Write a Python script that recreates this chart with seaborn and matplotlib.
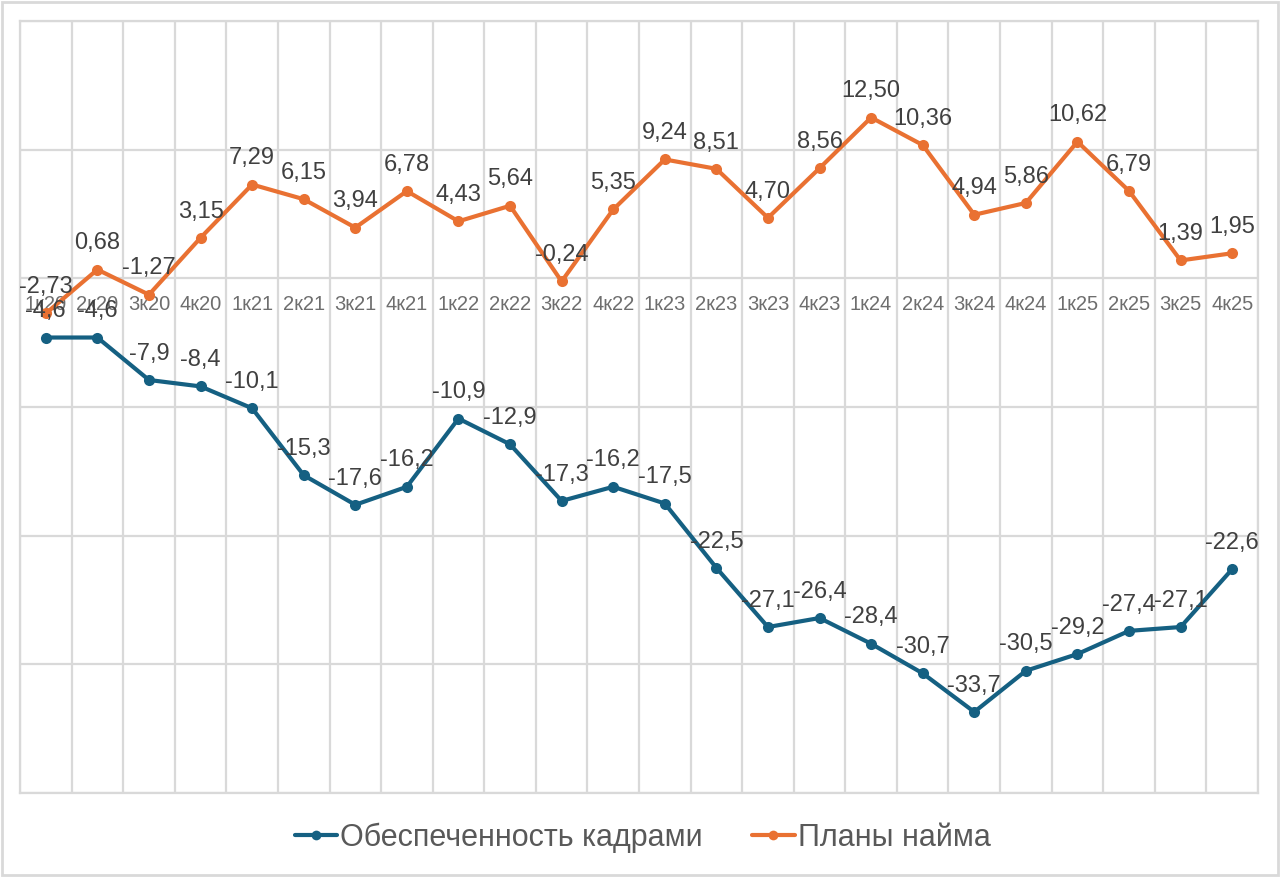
import numpy as np
import pandas as pd
import matplotlib
matplotlib.use("Agg")
import matplotlib.pyplot as plt
import seaborn as sns
from matplotlib.lines import Line2D
from matplotlib.patches import Rectangle

quarters = ["1к20", "2к20", "3к20", "4к20", "1к21", "2к21", "3к21", "4к21",
            "1к22", "2к22", "3к22", "4к22", "1к23", "2к23", "3к23", "4к23",
            "1к24", "2к24", "3к24", "4к24", "1к25", "2к25", "3к25", "4к25"]
staffing = [-4.6, -4.6, -7.9, -8.4, -10.1, -15.3, -17.6, -16.2,
            -10.9, -12.9, -17.3, -16.2, -17.5, -22.5, -27.1, -26.4,
            -28.4, -30.7, -33.7, -30.5, -29.2, -27.4, -27.1, -22.6]
hiring = [-2.73, 0.68, -1.27, 3.15, 7.29, 6.15, 3.94, 6.78,
          4.43, 5.64, -0.24, 5.35, 9.24, 8.51, 4.70, 8.56,
          12.50, 10.36, 4.94, 5.86, 10.62, 6.79, 1.39, 1.95]
series_names = ["Обеспеченность кадрами", "Планы найма"]
colors = ["#156082", "#E97132"]

sns.set_theme(style="white")
plt.rcParams['font.family'] = ['Liberation Sans', 'DejaVu Sans']

fig = plt.figure(figsize=(12.8, 8.77), dpi=100)
ax = fig.add_axes([20/1280, 1-793/877, (1258-20)/1280, (793-21)/877])

n = len(quarters)
df = pd.DataFrame({
    "idx": list(range(n)) * 2,
    "value": staffing + hiring,
    "series": [series_names[0]] * n + [series_names[1]] * n,
})

sns.lineplot(data=df, x="idx", y="value", hue="series", palette=colors,
             marker="o", markersize=8, markeredgewidth=0, linewidth=3.0,
             ax=ax, legend=False, zorder=3)

ax.set_xlim(-0.5, n - 0.5)
ax.set_ylim(-40, 20)
ax.set_yticks(np.arange(-40, 21, 10))
ax.set_xticks(np.arange(-0.5, n, 1.0))
ax.grid(True, color="#D9D9D9", linewidth=1.6)
ax.tick_params(axis="both", length=0, labelleft=False, labelbottom=False)
ax.set_xlabel("")
ax.set_ylabel("")
for s in ax.spines.values():
    s.set_color("#D9D9D9")
    s.set_linewidth(1.6)

# category labels along zero line
for i, q in enumerate(quarters):
    ax.annotate(q, xy=(i, 0), xytext=(0, -12), textcoords="offset points",
                ha="center", va="top", fontsize=14.5, color="#6E6E6E", zorder=2)

# data labels
def fmt(v, d):
    return f"{v:.{d}f}".replace(".", ",")

for i, v in enumerate(staffing):
    ax.annotate(fmt(v, 1), xy=(i, v), xytext=(0, 11), textcoords="offset points",
                ha="center", va="bottom", fontsize=17, color="#404040", zorder=4)
for i, v in enumerate(hiring):
    ax.annotate(fmt(v, 2), xy=(i, v), xytext=(0, 11), textcoords="offset points",
                ha="center", va="bottom", fontsize=17, color="#404040", zorder=4)

handles = [Line2D([0], [0], color=c, linewidth=3.0, marker="o", markersize=7,
                  markeredgewidth=0) for c in colors]
leg = fig.legend(handles, series_names, loc="center", bbox_to_anchor=(0.502, 1-838/877),
                 ncol=2, frameon=False, handlelength=1.4, handletextpad=0.1,
                 columnspacing=1.6,
                 prop={"family": ["Liberation Sans", "DejaVu Sans"], "size": 22})
for t in leg.get_texts():
    t.set_color("#595959")

fig.patches.append(Rectangle((2/1280, 2/877), 1276/1280, 873/877, transform=fig.transFigure,
                             fill=False, edgecolor="#D9D9D9", linewidth=2))

fig.savefig("out.png", dpi=100, facecolor="white")
